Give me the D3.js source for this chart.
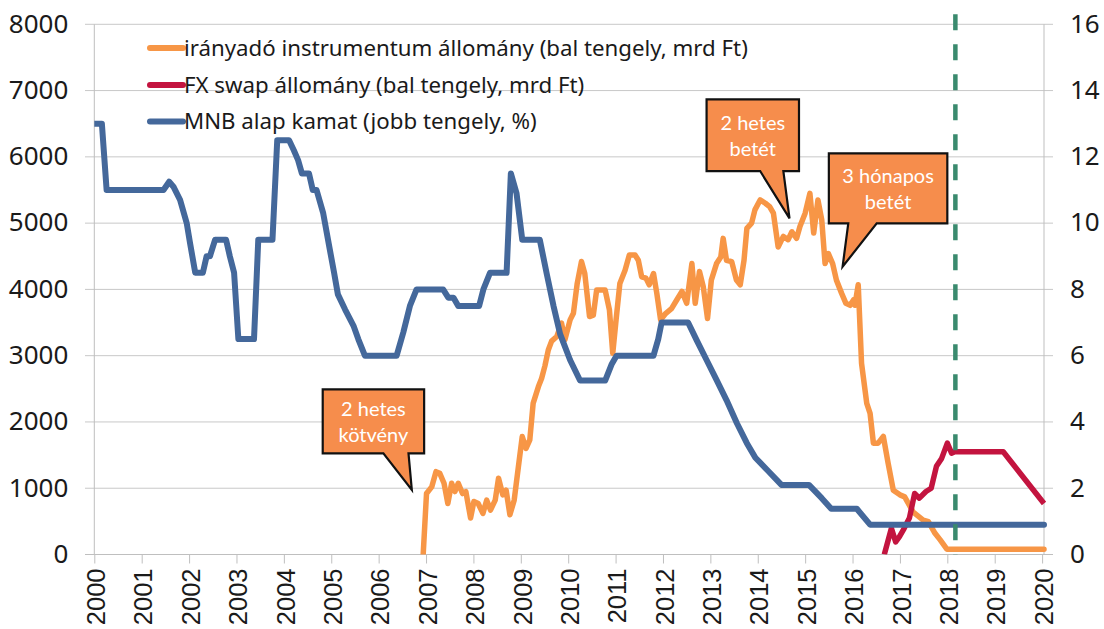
<!DOCTYPE html>
<html><head><meta charset="utf-8">
<script src="https://cdn.jsdelivr.net/npm/d3@7/dist/d3.min.js"></script>
<style>
html,body{margin:0;padding:0;background:#fff;}
svg{display:block;}
</style></head>
<body>
<svg id="chart" width="1104" height="629"></svg>
<script>
// ---------- data ----------
const years = d3.range(2000, 2021);
const leftTicks = [0,1000,2000,3000,4000,5000,6000,7000,8000];
const rightTicks = [0,2,4,6,8,10,12,14,16];

const seriesNames = [
  "irányadó instrumentum állomány (bal tengely, mrd Ft)",
  "FX swap állomány (bal tengely, mrd Ft)",
  "MNB alap kamat (jobb tengely, %)"
];

// irányadó instrumentum állomány (mrd Ft) [decimal year, value]
const policyInstrument = [
[2006.94,0],[2007.01,920],[2007.12,1020],[2007.21,1250],[2007.29,1225],[2007.38,1075],[2007.46,770],
[2007.54,1075],[2007.61,950],[2007.68,1075],[2007.77,920],[2007.84,950],[2007.94,550],[2008.01,800],
[2008.10,770],[2008.20,620],[2008.28,820],[2008.36,670],[2008.46,820],[2008.53,1150],[2008.62,900],
[2008.69,970],[2008.77,600],[2008.86,820],[2008.95,1330],[2009.03,1780],[2009.11,1600],[2009.19,1730],
[2009.26,2280],[2009.37,2530],[2009.44,2660],[2009.51,2850],[2009.58,3085],[2009.65,3220],[2009.76,3290],
[2009.86,3490],[2009.93,3240],[2010.04,3540],[2010.11,3640],[2010.19,4090],[2010.28,4420],[2010.35,4240],
[2010.45,3590],[2010.53,3610],[2010.60,3990],[2010.71,3990],[2010.78,3990],[2010.87,3690],[2010.94,3035],
[2011.01,3540],[2011.09,4090],[2011.20,4290],[2011.29,4520],[2011.41,4520],[2011.48,4440],[2011.55,4190],
[2011.64,4170],[2011.71,4070],[2011.80,4240],[2011.87,3940],[2011.95,3540],[2012.06,3640],[2012.18,3710],
[2012.29,3840],[2012.40,3970],[2012.50,3790],[2012.61,4390],[2012.68,3790],[2012.77,4270],[2012.85,4040],
[2012.94,3560],[2013.02,4140],[2013.13,4390],[2013.22,4490],[2013.27,4770],[2013.34,4440],[2013.45,4420],
[2013.55,4140],[2013.63,4070],[2013.71,4440],[2013.77,4920],[2013.87,5000],[2013.94,5200],[2014.05,5350],
[2014.16,5300],[2014.25,5250],[2014.33,5150],[2014.43,4640],[2014.54,4800],[2014.64,4750],[2014.72,4870],
[2014.82,4770],[2014.89,4950],[2015.00,5150],[2015.10,5450],[2015.18,4850],[2015.27,5350],[2015.35,5050],
[2015.42,4390],[2015.49,4540],[2015.58,4390],[2015.66,4140],[2015.77,3940],[2015.86,3790],[2015.95,3760],
[2016.02,3840],[2016.05,3760],[2016.12,4070],[2016.19,2885],[2016.30,2280],[2016.37,2130],[2016.44,1680],
[2016.54,1680],[2016.65,1780],[2016.75,1380],[2016.86,970],[2017.00,900],[2017.10,870],[2017.28,640],
[2017.49,520],[2017.60,495],[2017.74,320],[2017.85,220],[2017.99,80],[2020.04,80]
];

// FX swap állomány (mrd Ft)
const fxSwap = [
[2016.67,0],[2016.82,395],[2016.91,190],[2016.99,270],[2017.09,395],[2017.20,550],[2017.31,920],
[2017.41,850],[2017.55,950],[2017.66,1000],[2017.77,1330],[2017.88,1450],[2018.00,1680],[2018.09,1530],
[2018.16,1550],[2019.18,1550],[2020.04,770]
];

// MNB alapkamat (%)
const baseRate = [
[2000.00,13],[2000.16,13],[2000.26,11],[2001.46,11],[2001.58,11.25],[2001.67,11.1],[2001.81,10.7],
[2001.95,10.0],[2002.02,9.4],[2002.13,8.5],[2002.29,8.5],[2002.37,9.0],[2002.44,9.0],[2002.55,9.5],
[2002.78,9.5],[2002.86,9.0],[2002.95,8.5],[2003.04,6.5],[2003.37,6.5],[2003.46,9.5],[2003.76,9.5],
[2003.86,12.5],[2004.11,12.5],[2004.21,12.2],[2004.30,11.9],[2004.38,11.5],[2004.53,11.5],[2004.61,11.0],
[2004.69,11.0],[2004.83,10.3],[2004.97,9.2],[2005.06,8.5],[2005.14,7.85],[2005.29,7.4],[2005.47,6.9],
[2005.57,6.5],[2005.71,6.0],[2006.38,6.0],[2006.52,6.7],[2006.66,7.5],[2006.80,8.0],[2007.36,8.0],
[2007.47,7.75],[2007.58,7.75],[2007.68,7.5],[2008.12,7.5],[2008.21,8.0],[2008.35,8.5],[2008.70,8.5],
[2008.79,11.5],[2008.91,10.9],[2009.03,9.5],[2009.40,9.5],[2009.55,8.45],[2009.69,7.5],[2009.83,6.65],
[2010.04,5.87],[2010.25,5.25],[2010.78,5.25],[2010.92,5.75],[2011.02,6.0],[2011.80,6.0],[2011.90,6.5],
[2011.97,7.0],[2012.53,7.0],[2012.71,6.47],[2012.92,5.87],[2013.13,5.27],[2013.34,4.66],[2013.56,3.96],
[2013.77,3.36],[2013.95,2.92],[2014.22,2.52],[2014.50,2.1],[2015.08,2.1],[2015.35,1.7],[2015.55,1.38],
[2016.09,1.38],[2016.37,0.9],[2020.04,0.9]
];

// annotation: box [x0,x1 (year), top,bottom (mrd Ft)], pointer base [x0,x1], tip [year, value]
const callouts = [
  {lines:["2 hetes","kötvény"], box:[2004.82,2006.96,2492,1527], base:[2006.10,2006.63], tip:[2006.70,974]},
  {lines:["2 hetes","betét"], box:[2012.92,2014.87,6868,5786], base:[2014.05,2014.54], tip:[2014.67,5072]},
  {lines:["3 hónapos","betét"], box:[2015.50,2018.00,6053,4997], base:[2015.91,2016.51], tip:[2015.79,4342]}
];
const markerYear = 2018.17;
const markerRange = [0, 8150];

// ---------- styles ----------
const C = {orange:"#F79646", red:"#C3143F", blue:"#44689B", green:"#3A8A6E", box:"#F68D4C", grid:"#C8C8C8", axis:"#BFBFBF"};

const svg = d3.select("#chart");
svg.append("rect").attr("width",1104).attr("height",629).attr("fill","#fff");

const x = d3.scaleLinear().domain([2000, 2020.04]).range([94.3, 1044]);
const yL = d3.scaleLinear().domain([0, 8000]).range([554.5, 24.3]);
const yR = d3.scaleLinear().domain([0, 16]).range([554.5, 24.3]);

// gridlines
svg.append("g").selectAll("line").data(leftTicks).join("line")
  .attr("x1", 85).attr("x2", 1053)
  .attr("y1", d => yL(d)).attr("y2", d => yL(d))
  .attr("stroke", C.grid).attr("stroke-width", 1);

// axis lines
svg.append("line").attr("x1",x(2000)).attr("x2",x(2000)).attr("y1",yL(8000)).attr("y2",yL(0)).attr("stroke",C.axis);
svg.append("line").attr("x1",x(2020.04)).attr("x2",x(2020.04)).attr("y1",yL(8000)).attr("y2",yL(0)).attr("stroke",C.axis);

// left axis
const gL = svg.append("g").attr("transform", `translate(${x(2000)},0)`)
  .call(d3.axisLeft(yL).tickValues(leftTicks).tickSize(0).tickPadding(26).tickFormat(d3.format("d")));
gL.select(".domain").remove();
gL.selectAll("text").attr("font-family","'Noto Sans', sans-serif").attr("font-size",26).attr("fill","#1a1a1a").attr("dy","0.3em");

// right axis
const gR = svg.append("g").attr("transform", `translate(${x(2020.04)},0)`)
  .call(d3.axisRight(yR).tickValues(rightTicks).tickSize(0).tickPadding(26).tickFormat(d3.format("d")));
gR.select(".domain").remove();
gR.selectAll("text").attr("font-family","'Noto Sans', sans-serif").attr("font-size",26).attr("fill","#1a1a1a").attr("dy","0.3em");

// bottom axis
const gB = svg.append("g").attr("transform", `translate(0,${yL(0)})`)
  .call(d3.axisBottom(x).tickValues(years).tickSize(9).tickFormat(d3.format("d")));
gB.select(".domain").attr("d", `M85,0H1053`).attr("stroke", C.axis);
gB.selectAll(".tick line").attr("stroke", C.axis);
gB.selectAll("text")
  .attr("transform","rotate(-90)")
  .attr("x", -14).attr("y", 0).attr("dy","0.4em")
  .attr("text-anchor","end")
  .attr("font-family","'Liberation Sans', Arial, sans-serif").attr("font-size",25.5).attr("fill","#1a1a1a");

// lines
const clip = svg.append("clipPath").attr("id","plot").append("rect")
  .attr("x", x(2000)).attr("y", 0).attr("width", x(2020.04)-x(2000)+4).attr("height", yL(0));
const lineL = d3.line().x(d => x(d[0])).y(d => yL(d[1]));
const lineR = d3.line().x(d => x(d[0])).y(d => yR(d[1]));
const gLines = svg.append("g").attr("clip-path","url(#plot)");
gLines.append("path").datum(policyInstrument).attr("d", lineL).attr("fill","none")
  .attr("stroke", C.orange).attr("stroke-width",5.5).attr("stroke-linejoin","round").attr("stroke-linecap","round");
gLines.append("path").datum(fxSwap).attr("d", lineL).attr("fill","none")
  .attr("stroke", C.red).attr("stroke-width",5.5).attr("stroke-linejoin","round");
gLines.append("path").datum(baseRate).attr("d", lineR).attr("fill","none")
  .attr("stroke", C.blue).attr("stroke-width",6).attr("stroke-linejoin","round").attr("stroke-linecap","round");

// dashed marker
svg.append("line").attr("x1", x(markerYear)).attr("x2", x(markerYear))
  .attr("y1", yL(markerRange[1])).attr("y2", yL(markerRange[0]))
  .attr("stroke", C.green).attr("stroke-width", 4.5).attr("stroke-dasharray","16,14");

// callouts
callouts.forEach(c => {
  const [bx0,bx1,bt,bb] = c.box;
  const X0=x(bx0), X1=x(bx1), T=yL(bt), B=yL(bb);
  const p0=x(c.base[0]), p1=x(c.base[1]);
  const tx=x(c.tip[0]), ty=yL(c.tip[1]);
  const path = `M${X0},${T}H${X1}V${B}H${p1}L${tx},${ty}L${p0},${B}H${X0}Z`;
  svg.append("path").attr("d", path).attr("fill", C.box).attr("stroke","#111").attr("stroke-width",2.2).attr("stroke-linejoin","miter");
  const cx=(X0+X1)/2, cy=(T+B)/2;
  c.lines.forEach((t,i) => {
    svg.append("text").attr("x", cx).attr("y", cy + (i===0?-12.5:13.5)).attr("dy","0.35em")
      .attr("text-anchor","middle").attr("fill","#fff")
      .attr("font-family","Lato, 'Open Sans', sans-serif").attr("font-size",20).text(t);
  });
});

// legend
const legColors = [C.orange, C.red, C.blue];
const legY = [48, 85, 121.5];
const lg = svg.append("g");
seriesNames.forEach((n,i) => {
  lg.append("line").attr("x1",150).attr("x2",183).attr("y1",legY[i]).attr("y2",legY[i])
    .attr("stroke", legColors[i]).attr("stroke-width",6).attr("stroke-linecap","round");
  lg.append("text").attr("x",184).attr("y",legY[i]).attr("dy","0.35em")
    .attr("font-family","'Noto Sans', sans-serif").attr("font-size",20).attr("fill","#1a1a1a").text(n);
});
// scale legend font so first row spans reference width
const t0 = lg.select("text").node();
const w0 = t0.getComputedTextLength();
const fs = 20 * 564 / w0;
lg.selectAll("text").attr("font-size", fs);
</script>
</body></html>
